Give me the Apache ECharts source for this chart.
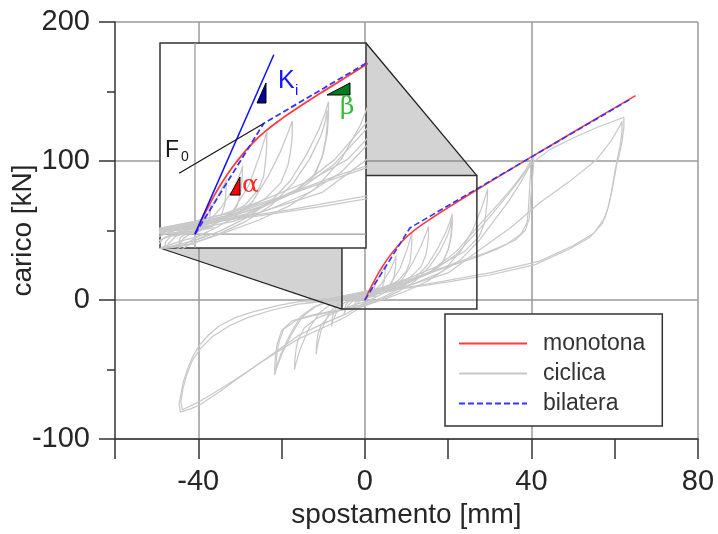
<!DOCTYPE html>
<html>
<head>
<meta charset="utf-8">
<script src="https://cdn.jsdelivr.net/npm/echarts/dist/echarts.min.js"></script>
<style>html,body{margin:0;padding:0;background:#fff}#c{width:718px;height:534px}</style>
</head>
<body>
<div id="c"></div>
<script>
// ---------- data (kN vs mm) ----------
const xLabelValues = [-40, 0, 40, 80];
const yLabelValues = [-100, 0, 100, 200];
const legendNames = ['monotona', 'ciclica', 'bilatera'];

const monotona = [[0,0],[1,6.5],[2,12.4],[3,17.9],[4,23],[5,27.6],[6,31.8],[7,35.6],[8,39.2],[9,42.4],[10,45.4],[11,48],[12,50.4],[13,52.6],[14,54.8],[15,56.8],[17,60.8],[20,66.5],[23,72.1],[27,79.5],[32,88.6],[40,103],[50,120.7],[58,134.8],[65,147]];
const bilatera = [[0,0],[10.8,51.8],[63.5,144]];
const rettaKi = [[0,0],[12.4,84]];
const rettaF0 = [[-2.5,28.5],[10.8,51.8]];

const cicPiccoli = [[0,0],[0.8,5],[1.6,9.5],[2.5,14],[2.3,7],[1.6,3],[0.5,1],[-0.8,0],[-1.8,-2],[-2.6,-5.5],[-2.3,-1.5],[-1.2,0.3],[0,1],[1.5,6.5],[3,14.5],[4,20],[5,25.5],[4.7,14],[4,7.5],[2.5,3.5],[0.5,2],[-1.5,0.8],[-3,-1],[-4.2,-4.5],[-5,-10],[-4.6,-3.5],[-3.5,0],[-1.5,1.2],[0,1.5]];
const cic8 = [[0,1.5],[2,5.5],[4,12],[6,21],[7.2,29],[7.5,32],[7.4,25],[7.1,18],[6.5,12.5],[5.5,8.5],[3,4.5],[0,2.5],[-3,0.8],[-5,-2],[-6.8,-9],[-7.7,-15],[-8,-19],[-7.8,-12],[-7.2,-7],[-6.5,-4],[-4,-1],[-1,0.2],[0,0.8]];
const cic12 = [[0,0.8],[3,4.5],[6,11],[8.5,23],[10.2,37],[10.9,44],[11.3,48],[11.3,42],[11.1,34],[10.8,27],[10,21],[8,14],[5,8.5],[2,5.5],[0,4],[-3,2],[-6,-1.5],[-8.5,-9],[-10.5,-22],[-11.4,-33],[-11.7,-39],[-11.6,-32],[-11.3,-25],[-10.5,-18],[-8.5,-11],[-5,-6],[-2,-3],[0,-1.5]];
const cic16 = [[0,-1.5],[3,2.5],[6,7.5],[9,15],[11.5,27],[13.5,39],[14.7,48],[15.3,53],[15.3,46],[15,38],[14.6,32],[13.5,24],[11,16.5],[7,10.5],[3,6.5],[0,4.5],[-4,2],[-8,-2.5],[-11,-9.5],[-13.5,-21],[-15.5,-35],[-16.5,-45],[-16.9,-50],[-16.8,-43],[-16.5,-35],[-16.1,-29],[-14.5,-20],[-11.5,-13],[-7,-8],[-3,-5],[0,-3]];
const cic22a = [[0,-3],[4,1.5],[8,7.5],[12,15.5],[15,25],[17.5,37],[19.5,49],[20.5,57],[21,62],[21,55],[20.8,47],[20.2,38],[19,28.5],[16,20.5],[11,13.5],[6,8.5],[2,5.5],[0,4.5],[-4,2.5],[-8,-0.5],[-12,-5],[-15,-12],[-17.5,-24],[-19.8,-38],[-21.2,-49],[-21.7,-54],[-21.6,-46],[-21.4,-38],[-21,-31],[-20,-22],[-17.5,-15],[-13,-11],[-8,-8],[-3,-5.5],[0,-4.5]];
const cic22b = [[0,-4],[4,0.5],[8,6],[12,13.5],[15.5,24],[18,35],[19.8,46],[20.5,53],[20.8,58],[20.8,52],[20.6,45],[20,36],[18.6,27],[15.5,19.5],[10.5,13],[5,8],[0,5],[-4,3],[-8,0],[-12,-4.5],[-15.5,-12],[-18,-25],[-20.2,-39],[-21,-46],[-21.4,-51],[-21.3,-44],[-21,-36],[-20.5,-29],[-19.5,-21],[-16.5,-14.5],[-12,-11],[-6,-7.5],[0,-4.5]];
const cic30 = [[0,-4],[5,1],[10,6.5],[15,13.5],[19,21.5],[23,35],[26,51],[28,66],[29,75],[29.5,80],[29.4,72],[29.1,63],[28.7,55],[27.5,46],[24,35],[18,25],[10,15],[4,9],[0,6],[-5,3],[-10,0.5],[-14,-2]];
const cic40a = [[-8,0],[-4,1.5],[0,2.5],[6,6],[12,12],[18,19.5],[23,29],[27.5,43],[31,57],[34.5,71],[37.5,85],[39.5,96],[40.5,104],[40.5,96],[40.2,86],[39.8,72],[39.5,59],[38.5,50],[36,43],[32,37],[27,31],[20,24],[12,15.5],[5,8.5],[0,5.5],[-5,2.5],[-10,0.5]];
const cic40b = [[-10,-0.5],[-5,1],[0,3],[8,9.5],[16,21],[22,35],[27.5,54],[32,69],[36,83],[38.5,93],[39.8,100],[39.8,92],[39.6,82],[39.3,67],[39,56],[37.5,47.5],[34,40],[29,34],[22,27],[13,17],[5,9.5],[0,6],[-5,3],[-10,0]];
const cic60a = [[-10,0],[-5,2],[0,3.5],[8,9],[16,20],[22,33],[27.5,51],[32,67],[36,82],[40,98],[44.3,108],[50,116.5],[56,124.5],[60,129],[62.2,131.5],[62.2,124],[61.8,115],[61.1,104],[60.5,98],[59.5,81],[58.5,67],[57,55],[54,45],[49,36.5],[41,25.5],[30,18],[20,13],[10,8.5],[0,4.5],[-5,2],[-10,0]];
const cic60b = [[-10,-0.5],[-5,1.5],[0,3.5],[10,10],[20,19.5],[27.5,36],[35,52],[42,70],[49,85],[55.5,100.5],[59,114],[61,124],[61.8,128.5],[61.7,120],[61.3,111],[60,92],[59,74],[57.8,60],[55,48],[50,39],[42,28],[30,19.5],[15,11.5],[0,4.5],[-5,2],[-10,-0.5]];
const cic45a = [[2,1],[0,-2],[-4.5,-10],[-10,-17],[-15.7,-25],[-18.9,-32],[-22,-38.5],[-26.9,-49],[-31,-57.5],[-34.9,-66],[-39.7,-75.5],[-42,-78.5],[-44.3,-80.5],[-44.6,-75],[-44.2,-68],[-43.5,-58],[-42.5,-49],[-41.2,-40],[-39.7,-32.5],[-37.5,-25],[-34.9,-18.5],[-31,-12.5],[-26.9,-8.5],[-21,-4],[-16.5,-1.5],[-10,0.5],[-5,1.5],[0,2.5],[3,4]];
const cic45b = [[2,0],[0,-3],[-4.5,-12],[-10,-20],[-15.7,-27.6],[-20,-35.5],[-25,-45],[-30,-55],[-35,-64.5],[-40,-73.5],[-43.8,-79],[-44.2,-73],[-43.7,-64],[-42.8,-54],[-41.5,-44],[-39.5,-35],[-36.5,-26],[-32.5,-18.5],[-28,-12.5],[-22,-7],[-16,-3],[-8,-0.5],[0,1.5],[3,3]];

// zoom window (data range shown in the inset)
const insetX = [-5.5, 26.9];
const insetY = [-6.5, 89.5];

// annotation triangles (inset data coords)
const triAlpha = [[5.51,18.3],[7.08,18.3],[7.08,26.75]];
const triKi = [[9.76,61.4],[11.17,61.4],[11.17,70.8]];
const triBeta = [[20.77,65.15],[24.38,65.15],[24.38,70.8]];
// label anchors (inset data coords)
const posF0 = [-4.71, 39.16];
const posKi = [13.06, 71.7];
const posAlpha = [7.4, 23.0];
const posBeta = [22.81, 59.25];

// ---------- chart ----------
const cicliche = [cicPiccoli, cic8, cic12, cic16, cic22a, cic22b, cic30, cic40a, cic40b, cic60a, cic60b, cic45a, cic45b];
const GRAY = '#c8c8c8', RED = '#ff3c3c', BLUE = '#3434ff';
const FONT = '"Liberation Sans", Arial, sans-serif';
const chart = echarts.init(document.getElementById('c'));

const series = [];
cicliche.forEach(d => series.push({name:'ciclica', type:'line', data:d, xAxisIndex:0, yAxisIndex:0, symbol:'none', showSymbol:false, silent:true, z:2, lineStyle:{color:GRAY, width:1.2}, itemStyle:{color:GRAY}}));
series.push({name:'monotona', type:'line', data:monotona, xAxisIndex:0, yAxisIndex:0, symbol:'none', showSymbol:false, silent:true, z:3, lineStyle:{color:RED, width:1.6}, itemStyle:{color:RED}});
series.push({name:'bilatera', type:'line', data:bilatera, xAxisIndex:0, yAxisIndex:0, symbol:'none', showSymbol:false, silent:true, z:4, lineStyle:{color:BLUE, width:1.6, type:[6,3]}, itemStyle:{color:BLUE}});
// inset
series.push({type:'line', data:[[0,insetY[0]],[0,insetY[1]]], xAxisIndex:1, yAxisIndex:1, symbol:'none', silent:true, z:11, lineStyle:{color:'#9a9a9a', width:1.3}});
series.push({type:'line', data:[[insetX[0],0],[insetX[1],0]], xAxisIndex:1, yAxisIndex:1, symbol:'none', silent:true, z:11, lineStyle:{color:'#9a9a9a', width:1.3}});
cicliche.forEach(d => series.push({type:'line', data:d, xAxisIndex:1, yAxisIndex:1, symbol:'none', silent:true, z:12, lineStyle:{color:GRAY, width:1.3}}));
series.push({type:'line', data:monotona, xAxisIndex:1, yAxisIndex:1, symbol:'none', silent:true, z:13, lineStyle:{color:RED, width:1.8}});
series.push({type:'line', data:bilatera, xAxisIndex:1, yAxisIndex:1, symbol:'none', silent:true, z:14, lineStyle:{color:BLUE, width:1.8, type:[6,3]}});
series.push({type:'line', data:rettaKi, xAxisIndex:1, yAxisIndex:1, symbol:'none', silent:true, z:14, lineStyle:{color:'#1010ff', width:1.5}});
series.push({type:'line', data:rettaF0, xAxisIndex:1, yAxisIndex:1, symbol:'none', silent:true, z:14, lineStyle:{color:'#1a1a1a', width:1.3}});
const tris = [triAlpha, triKi, triBeta];
const triFill = ['#ff0000', '#0000a0', '#007a1e'];
series.push({type:'custom', xAxisIndex:1, yAxisIndex:1, silent:true, z:15,
  data: tris.map(t => [t[0][0], t[0][1]]),
  renderItem: (params, api) => ({type:'polygon', shape:{points: tris[params.dataIndex].map(p => api.coord(p))}, style:{fill: triFill[params.dataIndex], stroke:'#000', lineWidth:1}})
});

const axisLineStyle = {color:'#333', width:1.5};
chart.setOption({
  animation:false,
  textStyle:{fontFamily:FONT},
  grid:[
    {left:115, top:22, width:583, height:417, show:false, containLabel:false, outerBoundsMode:'none'},
    {left:160, top:43, width:206, height:205, show:true, backgroundColor:'#fff', borderColor:'#333', borderWidth:1.5, z:10, containLabel:false, outerBoundsMode:'none'}
  ],
  xAxis:[
    {gridIndex:0, type:'value', min:-60, max:80, interval:20,
     name:'spostamento [mm]', nameLocation:'middle', nameGap:55,
     nameTextStyle:{fontSize:28, color:'#262626', fontFamily:FONT},
     axisLine:{show:true, onZero:false, lineStyle:axisLineStyle},
     axisTick:{show:true, inside:false, length:20, lineStyle:axisLineStyle},
     axisLabel:{fontSize:29, color:'#262626', margin:28, fontFamily:FONT,
       formatter: v => xLabelValues.indexOf(v) >= 0 ? String(v) : ''},
     splitLine:{show:true, lineStyle:{color:['rgba(0,0,0,0)','#9a9a9a'], width:1.5}}},
    {gridIndex:1, type:'value', min:insetX[0], max:insetX[1], show:false}
  ],
  yAxis:[
    {gridIndex:0, type:'value', min:-100, max:200, interval:100,
     name:'carico [kN]', nameLocation:'middle', nameGap:78, nameMoveOverlap:false,
     nameTextStyle:{fontSize:28, color:'#262626', fontFamily:FONT},
     axisLine:{show:true, onZero:false, lineStyle:axisLineStyle},
     axisTick:{show:true, inside:false, length:16, lineStyle:axisLineStyle},
     minorTick:{show:true, splitNumber:2, length:8, lineStyle:axisLineStyle},
     minorSplitLine:{show:false},
     axisLabel:{fontSize:29, color:'#262626', margin:25, fontFamily:FONT,
       formatter: v => yLabelValues.indexOf(v) >= 0 ? String(v) : ''},
     splitLine:{show:true, lineStyle:{color:'#9a9a9a', width:1.5}}},
    {gridIndex:1, type:'value', min:insetY[0], max:insetY[1], show:false}
  ],
  legend:{
    data:legendNames, orient:'vertical', left:445, top:314,
    backgroundColor:'#fff', borderColor:'#333', borderWidth:1.5, borderRadius:0,
    padding:[18,17,11,13], itemWidth:68, itemHeight:14, itemGap:7,
    selectedMode:false, z:20,
    itemStyle:{opacity:0, borderWidth:0},
    textStyle:{fontSize:23, color:'#333', fontFamily:FONT, padding:[0,0,0,11], lineHeight:23}
  },
  series: series
});

// ---------- zoom frame, connectors, labels ----------
const P0 = p => chart.convertToPixel({gridIndex:0}, p);
const P1 = p => chart.convertToPixel({gridIndex:1}, p);
const iTL = P1([insetX[0], insetY[1]]), iBR = P1([insetX[1], insetY[0]]);
const sTL = P0([insetX[0], insetY[1]]), sBR = P0([insetX[1], insetY[0]]);
const fillC = 'rgba(120,120,120,0.33)';
const f0 = P1(posF0), ki = P1(posKi), al = P1(posAlpha), be = P1(posBeta);
const SERIF = '"DejaVu Serif", "Liberation Serif", serif';
chart.setOption({
  graphic:[
    {type:'polygon', z:1, silent:true, shape:{points:[[iBR[0], iTL[1]], [sBR[0], sTL[1]], [iBR[0], sTL[1]]]}, style:{fill:fillC}},
    {type:'polygon', z:1, silent:true, shape:{points:[[iTL[0], iBR[1]], [sTL[0], sBR[1]], [sTL[0], iBR[1]]]}, style:{fill:fillC}},
    {type:'line', z:5, silent:true, shape:{x1:iBR[0], y1:iTL[1], x2:sBR[0], y2:sTL[1]}, style:{stroke:'#222', lineWidth:1.3}},
    {type:'line', z:5, silent:true, shape:{x1:iTL[0], y1:iBR[1], x2:sTL[0], y2:sBR[1]}, style:{stroke:'#222', lineWidth:1.3}},
    {type:'rect', z:5, silent:true, shape:{x:sTL[0], y:sTL[1], width:sBR[0]-sTL[0], height:sBR[1]-sTL[1]}, style:{fill:null, stroke:'#333', lineWidth:1.5}},
    {type:'text', z:20, silent:true, x:f0[0], y:f0[1], style:{text:'F', fontSize:23, fontFamily:FONT, fill:'#1a1a1a', align:'left', verticalAlign:'middle'}},
    {type:'text', z:20, silent:true, x:f0[0]+16, y:f0[1]+7, style:{text:'0', fontSize:14, fontFamily:FONT, fill:'#1a1a1a', align:'left', verticalAlign:'middle'}},
    {type:'text', z:20, silent:true, x:ki[0], y:ki[1], style:{text:'K', fontSize:25, fontFamily:FONT, fill:'#1414ff', align:'left', verticalAlign:'middle'}},
    {type:'text', z:20, silent:true, x:ki[0]+17, y:ki[1]+10, style:{text:'i', fontSize:15, fontFamily:FONT, fill:'#1414ff', align:'left', verticalAlign:'middle'}},
    {type:'text', z:20, silent:true, x:al[0], y:al[1], style:{text:'α', fontSize:25, fontFamily:SERIF, fill:'#ff2a2a', align:'left', verticalAlign:'middle'}},
    {type:'text', z:20, silent:true, x:be[0], y:be[1], style:{text:'β', fontSize:25, fontFamily:SERIF, fill:'#35b935', align:'left', verticalAlign:'middle'}}
  ]
});
</script>
</body>
</html>
